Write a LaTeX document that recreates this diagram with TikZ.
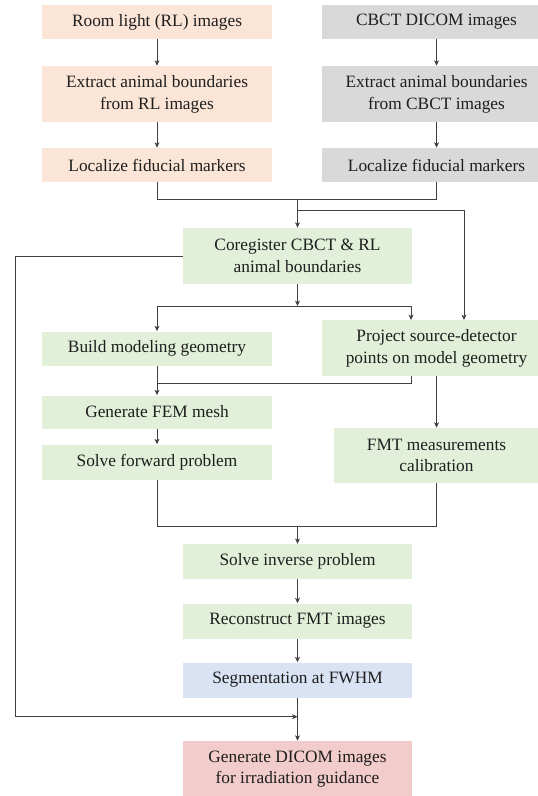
\documentclass[tikz,border=0pt]{standalone}
\usepackage{fontspec}
\setmainfont{Liberation Serif}
\newfontfamily\tnr{Liberation Serif}
\usetikzlibrary{arrows.meta}
\definecolor{peach}{HTML}{FBE5D6}
\definecolor{greyb}{HTML}{D9D9D9}
\definecolor{greenb}{HTML}{E2F0D9}
\definecolor{blueb}{HTML}{DAE3F3}
\definecolor{pinkb}{HTML}{F2CBCB}
\definecolor{linec}{HTML}{404040}
\definecolor{textc}{HTML}{1E1E1E}
\tikzset{
  box/.style={inner sep=0pt, align=center, text=textc,
    font=\tnr\fontsize{13}{16.3}\selectfont, minimum width=172.5pt},
  onel/.style={minimum height=25.5pt},
  twol/.style={minimum height=42pt},
  conn/.style={draw=linec, line width=0.7pt},
  arr/.style={conn, -{Stealth[length=4pt,width=3.6pt,inset=1pt]}}
}
\begin{document}
\begin{tikzpicture}[x=0.75pt,y=-0.75pt]
\path[use as bounding box, fill=white] (0,0) rectangle (538,796);
\begin{scope}
\clip (0,0) rectangle (538,796);
% left column
\node[box, onel, fill=peach] (rl1) at (157,22) {Room light (RL) images};
\node[box, twol, fill=peach] (rl2) at (157,94) {Extract animal boundaries\\from RL images};
\node[box, onel, fill=peach] (rl3) at (157,165) {Localize fiducial markers};
% right column
\node[box, onel, fill=greyb] (ct1) at (436.5,22) {CBCT DICOM images};
\node[box, twol, fill=greyb] (ct2) at (436.5,94) {Extract animal boundaries\\from CBCT images};
\node[box, onel, fill=greyb] (ct3) at (436.5,165) {Localize fiducial markers};
% coregister
\node[box, twol, fill=greenb, minimum width=171.75pt] (co) at (297.5,256) {Coregister CBCT \& RL\\animal boundaries};
\node[box, onel, fill=greenb] (bm) at (157,348.5) {Build modeling geometry};
\node[box, twol, fill=greenb] (pj) at (436.5,348) {Project source-detector\\points on model geometry};
\node[box, minimum height=24.75pt, fill=greenb] (fem) at (157,412) {Generate FEM mesh};
\node[box, minimum height=26.25pt, fill=greenb] (sf) at (157,462) {Solve forward problem};
\node[box, minimum height=41.25pt, minimum width=154.5pt, fill=greenb] (fmt) at (436.5,455.5) {FMT measurements\\calibration};
\node[box, minimum height=26pt, minimum width=171.75pt, fill=greenb] (inv) at (297.5,561.5) {Solve inverse problem};
\node[box, minimum height=26.25pt, minimum width=171.75pt, fill=greenb] (rec) at (297.5,621) {Reconstruct FMT images};
\node[box, minimum height=26.25pt, minimum width=171.75pt, fill=blueb] (seg) at (297.5,680) {Segmentation at FWHM};
\node[box, minimum height=42pt, minimum width=171.75pt, fill=pinkb] (gen) at (297.5,769) {Generate DICOM images\\for irradiation guidance};

% coordinates
\coordinate (mj) at (297.5,199.5);
\coordinate (br1) at (297.5,210.7);
\coordinate (pjA) at (464,320);
\coordinate (br2) at (297.5,306);
\coordinate (pjB) at (411,320);
\coordinate (pjC) at (411.5,376);
\coordinate (j3) at (157,383.3);
\coordinate (mj2) at (297.5,526);
\coordinate (fbA) at (15.4,256);
\coordinate (fbB) at (15.4,716.7);
\coordinate (fbC) at (297.5,716.7);

% connectors
\draw[arr] (rl1) -- (rl2);
\draw[arr] (rl2) -- (rl3);
\draw[arr] (ct1) -- (ct2);
\draw[arr] (ct2) -- (ct3);
\draw[conn] (rl3.south) -- (rl3.south |- mj) -- (ct3.south |- mj) -- (ct3.south);
\draw[arr] (mj) -- (co.north);
\draw[arr] (br1) -| (pjA);
\draw[arr] (co.south) -- (br2);
\draw[arr] (br2) -| (bm.north);
\draw[arr] (br2) -| (pjB);
\draw[arr] (bm) -- (fem);
\draw[conn] (pjC) |- (j3);
\draw[arr] (pj) -- (fmt);
\draw[arr] (fem) -- (sf);
\draw[conn] (sf.south) -- (sf.south |- mj2) -- (fmt.south |- mj2) -- (fmt.south);
\draw[arr] (mj2) -- (inv.north);
\draw[arr] (inv) -- (rec);
\draw[arr] (rec) -- (seg);
\draw[arr] (seg) -- (gen);
\draw[arr] (co.west) -- (fbA) -- (fbB) -- (fbC);
\end{scope}
\end{tikzpicture}
\end{document}
